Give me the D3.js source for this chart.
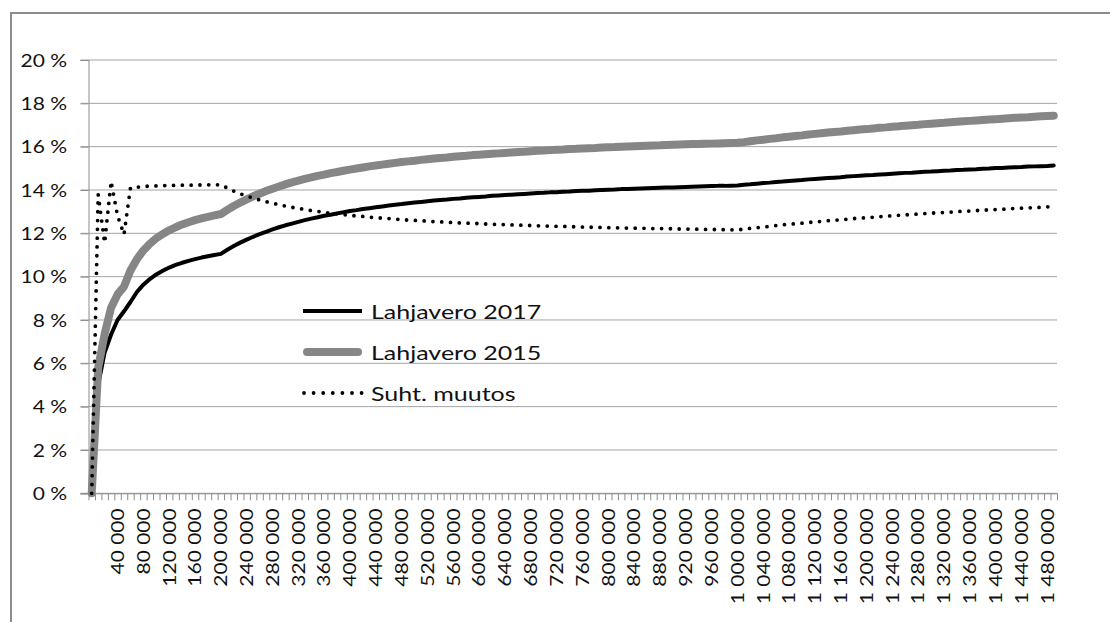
<!DOCTYPE html>
<html>
<head>
<meta charset="utf-8">
<script src="https://cdn.jsdelivr.net/npm/d3@7"></script>
<style>
  html, body { margin: 0; padding: 0; background: #fff; }
  svg { display: block; }
  text { font-family: Lato, "Open Sans", sans-serif; fill: #111; }
</style>
</head>
<body>
<svg id="chart" width="1110" height="622"></svg>
<script>
// ---- data ----
const categories = d3.range(0, 1500000, 10000); // 0 ... 1 490 000, step 10 000

const seriesNames = ["Lahjavero 2017", "Lahjavero 2015", "Suht. muutos"];

const lahjavero2017 = [0, 5.00, 6.50, 7.33, 8.00, 8.40, 8.83, 9.29, 9.63, 9.89,
10.10, 10.27, 10.42, 10.54, 10.64, 10.73, 10.81, 10.88, 10.94, 11.00,
11.05, 11.24, 11.41, 11.57, 11.71, 11.84, 11.96, 12.07, 12.18, 12.28,
12.37, 12.45, 12.53, 12.61, 12.68, 12.74, 12.81, 12.86, 12.92, 12.97,
13.03, 13.07, 13.12, 13.16, 13.20, 13.24, 13.28, 13.32, 13.35, 13.39,
13.42, 13.45, 13.48, 13.51, 13.54, 13.56, 13.59, 13.61, 13.64, 13.66,
13.68, 13.70, 13.73, 13.75, 13.77, 13.78, 13.80, 13.82, 13.84, 13.86,
13.87, 13.89, 13.90, 13.92, 13.93, 13.95, 13.96, 13.97, 13.99, 14.00,
14.01, 14.02, 14.04, 14.05, 14.06, 14.07, 14.08, 14.09, 14.10, 14.11,
14.12, 14.13, 14.14, 14.15, 14.16, 14.17, 14.18, 14.19, 14.19, 14.20,
14.21, 14.24, 14.26, 14.29, 14.32, 14.34, 14.37, 14.39, 14.42, 14.44,
14.46, 14.49, 14.51, 14.53, 14.55, 14.57, 14.59, 14.62, 14.64, 14.66,
14.68, 14.69, 14.71, 14.73, 14.75, 14.77, 14.79, 14.80, 14.82, 14.84,
14.85, 14.87, 14.89, 14.90, 14.92, 14.93, 14.95, 14.96, 14.98, 14.99,
15.01, 15.02, 15.04, 15.05, 15.06, 15.08, 15.09, 15.10, 15.11, 15.13];

const lahjavero2015 = [0, 5.80, 7.35, 8.57, 9.18, 9.54, 10.28, 10.81, 11.21, 11.52,
11.77, 11.97, 12.14, 12.28, 12.41, 12.51, 12.61, 12.69, 12.76, 12.83,
12.89, 13.08, 13.26, 13.42, 13.57, 13.71, 13.83, 13.95, 14.06, 14.16,
14.26, 14.35, 14.43, 14.51, 14.58, 14.65, 14.71, 14.78, 14.83, 14.89,
14.94, 14.99, 15.04, 15.09, 15.13, 15.17, 15.21, 15.25, 15.29, 15.32,
15.35, 15.39, 15.42, 15.45, 15.48, 15.50, 15.53, 15.56, 15.58, 15.61,
15.63, 15.65, 15.67, 15.69, 15.71, 15.73, 15.75, 15.77, 15.79, 15.81,
15.82, 15.84, 15.86, 15.87, 15.89, 15.90, 15.92, 15.93, 15.94, 15.96,
15.97, 15.98, 16.00, 16.01, 16.02, 16.03, 16.04, 16.05, 16.06, 16.08,
16.09, 16.10, 16.11, 16.12, 16.12, 16.13, 16.14, 16.15, 16.16, 16.17,
16.18, 16.21, 16.25, 16.29, 16.32, 16.36, 16.39, 16.43, 16.46, 16.49,
16.52, 16.56, 16.59, 16.62, 16.65, 16.68, 16.70, 16.73, 16.76, 16.79,
16.81, 16.84, 16.87, 16.89, 16.92, 16.94, 16.97, 16.99, 17.01, 17.04,
17.06, 17.08, 17.10, 17.13, 17.15, 17.17, 17.19, 17.21, 17.23, 17.25,
17.27, 17.29, 17.31, 17.33, 17.35, 17.36, 17.38, 17.40, 17.42, 17.43];

const suhtMuutos = [0, 13.79, 11.56, 14.40, 12.81, 11.95, 14.10, 14.13, 14.16, 14.18,
14.19, 14.20, 14.21, 14.21, 14.22, 14.22, 14.23, 14.23, 14.24, 14.24,
14.24, 14.09, 13.95, 13.83, 13.72, 13.63, 13.54, 13.46, 13.39, 13.32,
13.26, 13.20, 13.15, 13.10, 13.05, 13.01, 12.97, 12.93, 12.90, 12.86,
12.83, 12.80, 12.78, 12.75, 12.72, 12.70, 12.68, 12.66, 12.63, 12.61,
12.60, 12.58, 12.56, 12.54, 12.53, 12.51, 12.50, 12.48, 12.47, 12.46,
12.45, 12.43, 12.42, 12.41, 12.40, 12.39, 12.38, 12.37, 12.36, 12.35,
12.34, 12.33, 12.32, 12.32, 12.31, 12.30, 12.29, 12.28, 12.28, 12.27,
12.26, 12.26, 12.25, 12.24, 12.24, 12.23, 12.23, 12.22, 12.22, 12.21,
12.21, 12.20, 12.20, 12.19, 12.19, 12.18, 12.18, 12.17, 12.17, 12.16,
12.16, 12.19, 12.23, 12.26, 12.29, 12.32, 12.36, 12.39, 12.42, 12.44,
12.47, 12.50, 12.53, 12.55, 12.58, 12.60, 12.63, 12.65, 12.68, 12.70,
12.72, 12.74, 12.77, 12.79, 12.81, 12.83, 12.85, 12.87, 12.89, 12.91,
12.93, 12.95, 12.96, 12.98, 13.00, 13.02, 13.03, 13.05, 13.07, 13.08,
13.10, 13.11, 13.13, 13.15, 13.16, 13.17, 13.19, 13.20, 13.22, 13.23];

const yTickValues = [0, 2, 4, 6, 8, 10, 12, 14, 16, 18, 20];
const xTickLabels = [40000, 80000, 120000, 160000, 200000, 240000, 280000, 320000,
  360000, 400000, 440000, 480000, 520000, 560000, 600000, 640000, 680000, 720000,
  760000, 800000, 840000, 880000, 920000, 960000, 1000000, 1040000, 1080000, 1120000,
  1160000, 1200000, 1240000, 1280000, 1320000, 1360000, 1400000, 1440000, 1480000];

// ---- layout ----
const W = 1110, H = 622;
const plot = { left: 88.5, right: 1057, top: 60, bottom: 493.3 };
const svg = d3.select("#chart");

// outer frame (only left and top edges visible in the crop)
svg.append("path")
  .attr("d", `M11,${H} V13 H${W}`)
  .attr("fill", "none").attr("stroke", "#8c8c8c").attr("stroke-width", 2);

const x = d3.scaleBand().domain(categories).range([plot.left, plot.right]).padding(0);
const xc = d => x(d) + x.bandwidth() / 2;
const xEdge = d3.scaleLinear().domain([0, categories.length]).range([plot.left, plot.right]);
const y = d3.scaleLinear().domain([0, 20]).range([plot.bottom, plot.top]);

// gridlines
svg.append("g").selectAll("line").data(yTickValues).join("line")
  .attr("x1", plot.left - 8).attr("x2", plot.right)
  .attr("y1", d => y(d)).attr("y2", d => y(d))
  .attr("stroke", "#a3a3a3").attr("stroke-width", 1);

// y axis
const yAxis = svg.append("g").attr("transform", `translate(${plot.left},0)`)
  .call(d3.axisLeft(y).tickValues(yTickValues).tickSize(8).tickFormat(d => d + " %"));
yAxis.select(".domain").attr("stroke", "#8c8c8c");
yAxis.selectAll(".tick line").attr("stroke", "#8c8c8c");
yAxis.selectAll(".tick text")
  .attr("x", 0).attr("dy", "0.36em")
  .attr("transform", "translate(-21.5,0) scale(1.2,1)")
  .style("font-size", "17.5px").attr("fill", "#111");

// x axis tick marks at category boundaries
const xTicksG = svg.append("g").attr("transform", `translate(0,${plot.bottom})`)
  .call(d3.axisBottom(xEdge).tickValues(d3.range(0, categories.length + 1)).tickSize(7).tickFormat(""));
xTicksG.select(".domain").attr("stroke", "#8c8c8c");
xTicksG.selectAll(".tick line").attr("stroke", "#8c8c8c");
xTicksG.select(".domain").attr("d", `M${plot.left - 8},0.5H${plot.right}`);

// x axis labels
const fmt = d3.formatLocale({ decimal: ",", thousands: " ", grouping: [3], currency: ["", ""] }).format(",d");
const xLabG = svg.append("g").attr("transform", `translate(0,${plot.bottom})`)
  .call(d3.axisBottom(x).tickValues(xTickLabels).tickSize(0).tickFormat(fmt));
xLabG.select(".domain").remove();
xLabG.selectAll(".tick text")
  .attr("x", 0).attr("y", 0).attr("dy", "0.36em")
  .attr("text-anchor", "end")
  .attr("transform", "translate(0,15) rotate(-90) scale(1.2,1)")
  .style("font-size", "17.5px").attr("fill", "#111");

// lines
const line = d3.line().x((d, i) => xc(categories[i])).y(d => y(d));
svg.append("path").datum(lahjavero2017).attr("d", line)
  .attr("fill", "none").attr("stroke", "#000").attr("stroke-width", 4)
  .attr("stroke-linejoin", "round").attr("stroke-linecap", "round");
svg.append("path").datum(lahjavero2015).attr("d", line)
  .attr("fill", "none").attr("stroke", "#868686").attr("stroke-width", 8)
  .attr("stroke-linejoin", "round").attr("stroke-linecap", "round");
svg.append("path").datum(suhtMuutos).attr("d", line)
  .attr("fill", "none").attr("stroke", "#000").attr("stroke-width", 3.8)
  .attr("stroke-linecap", "round").attr("stroke-dasharray", "0 8.8");

// legend
const legendStyles = [
  { stroke: "#000", width: 4, dash: null, cap: "butt" },
  { stroke: "#868686", width: 8, dash: null, cap: "round" },
  { stroke: "#000", width: 3.8, dash: "0 9.6", cap: "round" }
];
const legend = svg.append("g");
const legendRows = legend.selectAll("g").data(seriesNames).join("g")
  .attr("transform", (d, i) => `translate(0,${311 + i * 41})`);
legendRows.append("line")
  .attr("x1", (d, i) => i === 1 ? 307 : (i === 2 ? 304 : 303))
  .attr("x2", (d, i) => i === 1 ? 358 : 362)
  .attr("y1", 0).attr("y2", 0)
  .attr("stroke", (d, i) => legendStyles[i].stroke)
  .attr("stroke-width", (d, i) => legendStyles[i].width)
  .attr("stroke-linecap", (d, i) => legendStyles[i].cap)
  .attr("stroke-dasharray", (d, i) => legendStyles[i].dash);
legendRows.append("text")
  .attr("transform", "translate(371,7.5) scale(1.25,1)")
  .style("font-size", "20px")
  .text(d => d);
</script>
</body>
</html>
